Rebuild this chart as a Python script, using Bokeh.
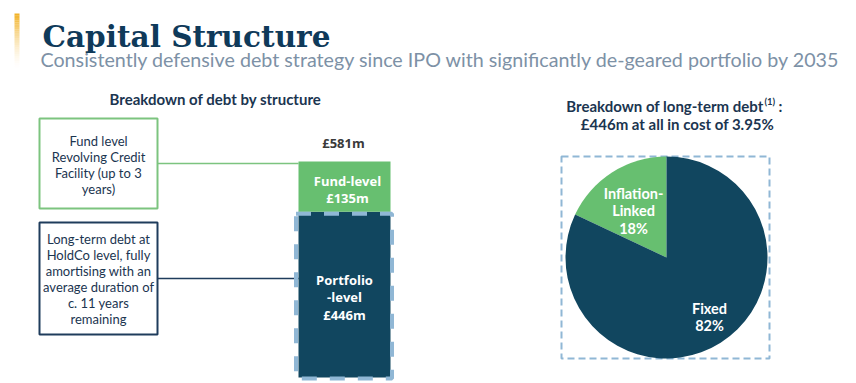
from bokeh.plotting import figure
from bokeh.models import Range1d
from bokeh.core.properties import value
from bokeh.embed import file_html
from bokeh.resources import INLINE
import math

# ---------------- data ----------------
debt_labels = ["Portfolio-level", "Fund-level"]
debt_values = [446, 135]          # £m
pie_labels = ["Inflation-Linked", "Fixed"]
pie_shares = [18, 82]             # %
all_in_cost = 3.95

NAVY = "#11465f"
GREEN = "#67bf70"
DASH = "#90b7d5"
TXT = "#1b3550"

W, H = 848, 381
def Y(iy):  # image y (down) -> data y (up)
    return 383 - iy

p = figure(width=W, height=H, output_backend="svg", toolbar_location=None,
           x_range=Range1d(0, W), y_range=Range1d(383 - H, 383),
           min_border=0, outline_line_color=None)
p.axis.visible = False
p.grid.visible = False
p.background_fill_color = "white"
p.border_fill_color = "white"

# debt scale: 0 at image y 377, 581 at image y 161
total = sum(debt_values)
k = (377 - 161) / total
d0 = 383 - 377
p.extra_y_ranges = {"debt": Range1d(start=(383 - H - d0) / k, end=(383 - d0) / k)}

# ---------------- header ----------------
n = 24
ys0 = [13 + i * (67 - 13) / n for i in range(n)]
ys1 = [13 + (i + 1) * (67 - 13) / n for i in range(n)]
p.quad(left=14, right=19, top=[Y(a) for a in ys0], bottom=[Y(b) for b in ys1],
       fill_color="#f1b228", fill_alpha=[max(0.0, 1 - i / n) ** 1.6 for i in range(n)],
       line_color=None)

p.text(x=[42], y=[Y(36)], text=["Capital Structure"], text_font=value("DejaVu Serif"),
       text_font_style="bold", text_font_size="29.5px", text_color="#0f3a5a",
       text_baseline="alphabetic", text_align="left")
p.text(x=[40], y=[Y(59)], text=["Consistently defensive debt strategy since IPO with significantly de-geared portfolio by 2035"],
       text_font=value("Lato"), text_font_size="19.7px", text_color="#7d91a6",
       text_baseline="middle", text_align="left")

# ---------------- left panel ----------------
p.text(x=[215], y=[Y(98)], text=["Breakdown of debt by structure"], text_font=value("Lato"),
       text_font_style="bold", text_font_size="15px", text_color=TXT,
       text_baseline="middle", text_align="center")

p.quad(left=[39], right=[157], top=[Y(118)], bottom=[Y(208)], fill_color=None,
       line_color="#7cc47f", line_width=2)
p.quad(left=[39], right=[157], top=[Y(222)], bottom=[Y(334)], fill_color=None,
       line_color="#1f3c5c", line_width=2)
p.line(x=[157, 298], y=[Y(163), Y(163)], line_color="#7cc47f", line_width=1.5)
p.line(x=[157, 298], y=[Y(278), Y(278)], line_color="#1f3c5c", line_width=1.5)

box1 = ["Fund level", "Revolving Credit", "Facility (up to 3", "years)"]
box2 = ["Long-term debt at", "HoldCo level, fully", "amortising with an",
        "average duration of", "c. 11 years", "remaining"]
p.text(x=[98] * len(box1), y=[Y(140 + 16 * i) for i in range(len(box1))], text=box1,
       text_font=value("Lato"), text_font_size="13px", text_color=TXT,
       text_baseline="middle", text_align="center")
p.text(x=[98] * len(box2), y=[Y(238 + 16 * i) for i in range(len(box2))], text=box2,
       text_font=value("Lato"), text_font_size="13px", text_color=TXT,
       text_baseline="middle", text_align="center")

# stacked bar
bottoms = [0, debt_values[0]]
tops = [debt_values[0], total]
p.quad(left=298, right=390, bottom=bottoms, top=tops, fill_color=[NAVY, GREEN],
       line_color=None, y_range_name="debt")
p.quad(left=[295.5], right=[391.5], bottom=[-1.0 / k], top=[debt_values[0] - 2.0 / k],
       fill_color=None, line_color=DASH, line_width=4, line_dash="15 13",
       y_range_name="debt")

p.text(x=[343], y=[total + 19 / k], text=[f"£{total}m"], text_font=value("Open Sans"),
       text_font_style="bold", text_font_size="13px", text_color="#3a3a3a",
       text_baseline="middle", text_align="center", y_range_name="debt")
fl = debt_values[1]
p.text(x=[347, 347], y=[tops[1] - 19 / k, tops[1] - 36 / k],
       text=["Fund-level", f"£{fl}m"], text_font=value("Open Sans"),
       text_font_style="bold", text_font_size="13px", text_color="white",
       text_baseline="middle", text_align="center", y_range_name="debt")
pl = debt_values[0]
p.text(x=[344, 344, 344], y=[pl - 68 / k, pl - 85 / k, pl - 103 / k],
       text=["Portfolio", "-level", f"£{pl}m"], text_font=value("Open Sans"),
       text_font_style="bold", text_font_size="13px", text_color="white",
       text_baseline="middle", text_align="center", y_range_name="debt")

# ---------------- right panel ----------------
p.text(x=[763], y=[Y(105)], text=["Breakdown of long-term debt"], text_font=value("Lato"),
       text_font_style="bold", text_font_size="15px", text_color=TXT,
       text_baseline="middle", text_align="right")
p.text(x=[764], y=[Y(101)], text=["(1)"], text_font=value("Lato"),
       text_font_style="bold", text_font_size="9.5px", text_color=TXT,
       text_baseline="middle", text_align="left")
p.text(x=[778], y=[Y(105)], text=[":"], text_font=value("Lato"),
       text_font_style="bold", text_font_size="15px", text_color=TXT,
       text_baseline="middle", text_align="left")
p.text(x=[677], y=[Y(123)], text=[f"£{pl}m at all in cost of {all_in_cost:.2f}%"],
       text_font=value("Lato"), text_font_style="bold", text_font_size="15px",
       text_color=TXT, text_baseline="middle", text_align="center")

p.quad(left=[561], right=[769], top=[Y(156)], bottom=[Y(358)], fill_color=None,
       line_color=DASH, line_width=2, line_dash="7 4")

cx, cy, r = 666, Y(257), 101
starts, ends, a = [], [], math.pi / 2
for s in pie_shares:
    starts.append(a)
    a += s / 100 * 2 * math.pi
    ends.append(a)
p.wedge(x=cx, y=cy, radius=r, start_angle=starts, end_angle=ends,
        fill_color=[GREEN, NAVY], line_color=None)

p.text(x=[633, 633, 633], y=[Y(193), Y(210), Y(228)],
       text=["Inflation-", "Linked", f"{pie_shares[0]}%"], text_font=value("Lato"),
       text_font_style="bold", text_font_size="14.5px", text_color="white",
       text_baseline="middle", text_align="center")
p.text(x=[709, 709], y=[Y(308), Y(325)], text=["Fixed", f"{pie_shares[1]}%"],
       text_font=value("Lato"), text_font_style="bold", text_font_size="14.5px",
       text_color="white", text_baseline="middle", text_align="center")

open("out.html", "w").write(file_html(p, INLINE))
